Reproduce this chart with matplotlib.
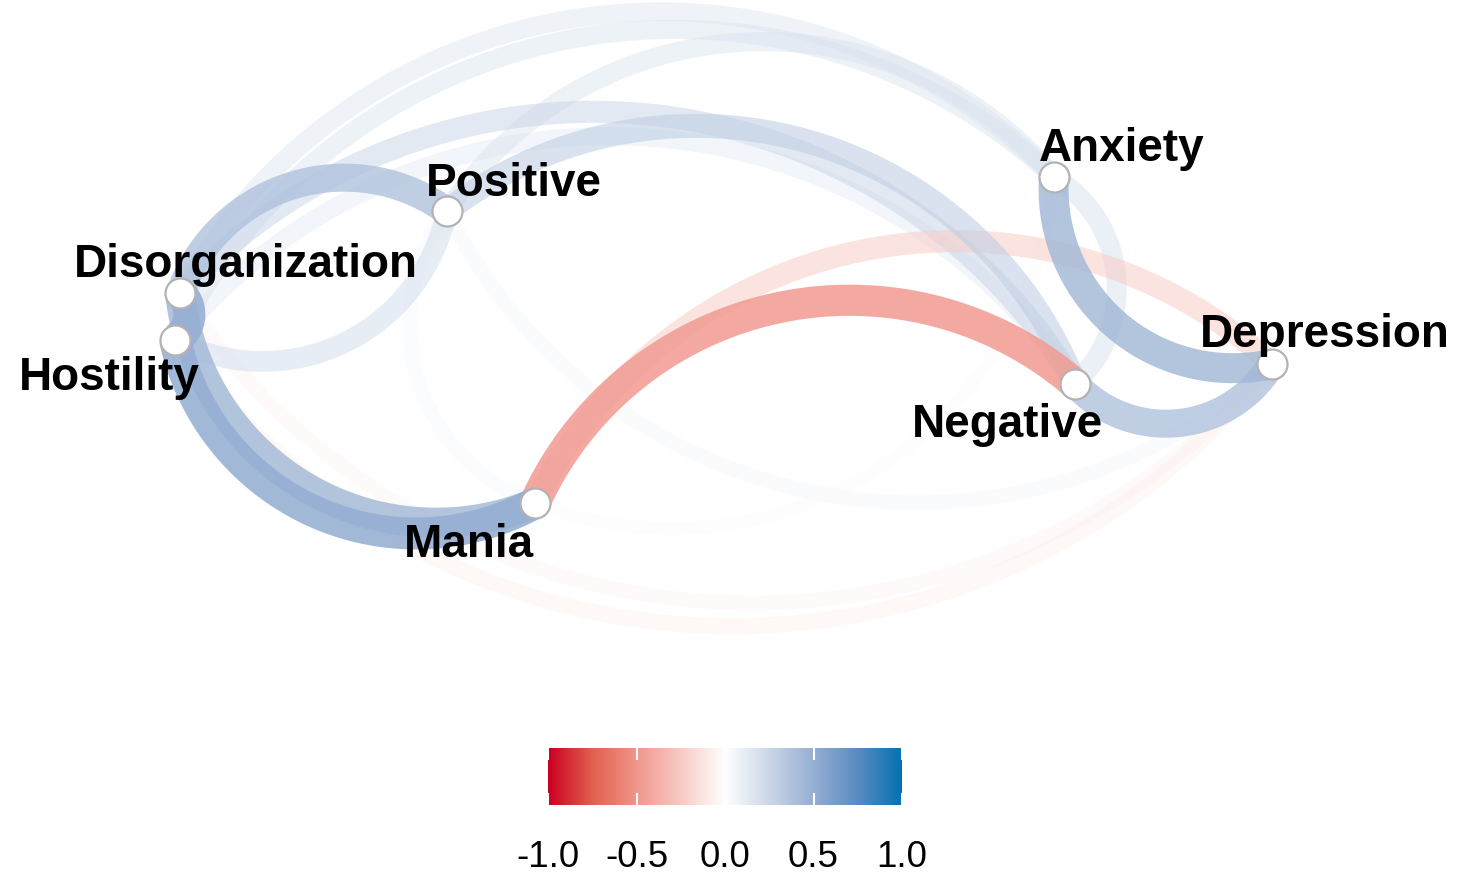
import numpy as np
import matplotlib
matplotlib.use('Agg')
import matplotlib.pyplot as plt
from matplotlib.colors import LinearSegmentedColormap

# node layout (multidimensional scaling coordinates)
nodes = ['Anxiety', 'Positive', 'Disorganization', 'Hostility', 'Negative', 'Depression', 'Mania']
node_x = [0.589, -0.515, -1.000, -1.009, 0.627, 0.985, -0.355]
node_y = [0.551, 0.489, 0.340, 0.255, 0.175, 0.211, -0.042]

# where the labels sit (ggrepel-like placement)
label_x = [0.713, -0.393, -0.880, -1.129, 0.505, 1.082, -0.475]
label_y = [0.580, 0.516, 0.369, 0.164, 0.078, 0.242, -0.140]

# correlations, curve bends to the right of from -> to
edge_from = ['Hostility', 'Disorganization', 'Hostility', 'Positive', 'Hostility',
             'Negative', 'Negative', 'Negative', 'Negative', 'Depression',
             'Anxiety', 'Negative', 'Negative', 'Hostility', 'Disorganization',
             'Positive', 'Anxiety', 'Anxiety', 'Anxiety', 'Positive', 'Mania']
edge_to = ['Mania', 'Mania', 'Disorganization', 'Disorganization', 'Positive',
           'Positive', 'Disorganization', 'Hostility', 'Mania', 'Mania',
           'Depression', 'Depression', 'Anxiety', 'Depression', 'Depression',
           'Depression', 'Disorganization', 'Hostility', 'Positive', 'Mania', 'Anxiety']
edge_r = [0.50, 0.45, 0.50, 0.40, 0.22,
          0.30, 0.25, 0.15, -0.48, -0.25,
          0.45, 0.40, 0.20, -0.10, -0.07,
          0.07, 0.17, 0.18, 0.18, 0.06, -0.03]

cbar_ticks = [-1.0, -0.5, 0.0, 0.5, 1.0]

cmap = LinearSegmentedColormap.from_list(
    'cor', [(0.0, '#CA0020'), (0.125, '#E2604F'), (0.25, '#F0968C'), (0.5, '#FFFFFF'),
            (0.75, '#96AFD2'), (0.875, '#5A8CC2'), (1.0, '#0571B0')])

plt.rcParams['font.family'] = ['Liberation Sans', 'DejaVu Sans']

PX = 550.0  # data units -> pixels


def arc(x0, y0, x1, y1, k=0.25, n=80):
   '''circular arc from (x0,y0) to (x1,y1), bulging to the right side'''
   dx, dy = x1 - x0, y1 - y0
   d = np.hypot(dx, dy)
   nx, ny = dy / d, -dx / d
   s = k * d
   R = (d * d / 4 + s * s) / (2 * s)
   mx, my = (x0 + x1) / 2, (y0 + y1) / 2
   cx, cy = mx - nx * (R - s), my - ny * (R - s)
   a0 = np.arctan2(y0 - cy, x0 - cx)
   a1 = np.arctan2(y1 - cy, x1 - cx)
   da = (a1 - a0 + np.pi) % (2 * np.pi) - np.pi
   t = np.linspace(a0, a0 + da, n)
   return cx + R * np.cos(t), cy + R * np.sin(t)


fig = plt.figure(figsize=(14.6, 8.73), dpi=100)
ax = fig.add_axes([0, 0, 1, 1])
ax.set_xlim(-730 / PX, 730 / PX)
ax.set_ylim(-393 / PX, 480 / PX)
ax.axis('off')

pos = {nm: (x, y) for nm, x, y in zip(nodes, node_x, node_y)}
order = np.argsort(np.abs(edge_r))
for i in order:
   a, b, r = edge_from[i], edge_to[i], edge_r[i]
   xs, ys = arc(pos[a][0], pos[a][1], pos[b][0], pos[b][1])
   width_px = 12 + 40 * abs(r)
   alpha = min(1.0, 0.2 + 1.35 * abs(r))
   ax.plot(xs, ys, color=cmap((r + 1) / 2), lw=width_px * 0.72, alpha=alpha,
           solid_capstyle='butt', zorder=1)

ax.scatter(node_x, node_y, s=(30 * 0.72) ** 2, facecolor='white',
           edgecolor='#b3b3b3', linewidth=1.6, zorder=3)

for nm, lx, ly in zip(nodes, label_x, label_y):
   ax.text(lx, ly, nm, ha='center', va='baseline', fontsize=33,
           fontweight='bold', color='black', zorder=4)

# colour bar
cax = fig.add_axes([548 / 1460, (873 - 805) / 873, 354 / 1460, 57 / 873])
grad = np.linspace(-1, 1, 512).reshape(1, -1)
cax.imshow(grad, cmap=cmap, vmin=-1, vmax=1, aspect='auto', extent=[-1, 1, 0, 1])
for t in cbar_ticks:
   cax.plot([t, t], [0, 0.2], color='white', lw=1.5)
   cax.plot([t, t], [0.8, 1], color='white', lw=1.5)
cax.set_xlim(-1, 1)
cax.set_ylim(0, 1)
cax.set_yticks([])
cax.set_xticks(cbar_ticks)
cax.set_xticklabels(['%.1f' % t for t in cbar_ticks], fontsize=26.5)
cax.tick_params(axis='x', length=0, pad=25)
for sp in cax.spines.values():
   sp.set_visible(False)

fig.savefig('out.png', dpi=100)
